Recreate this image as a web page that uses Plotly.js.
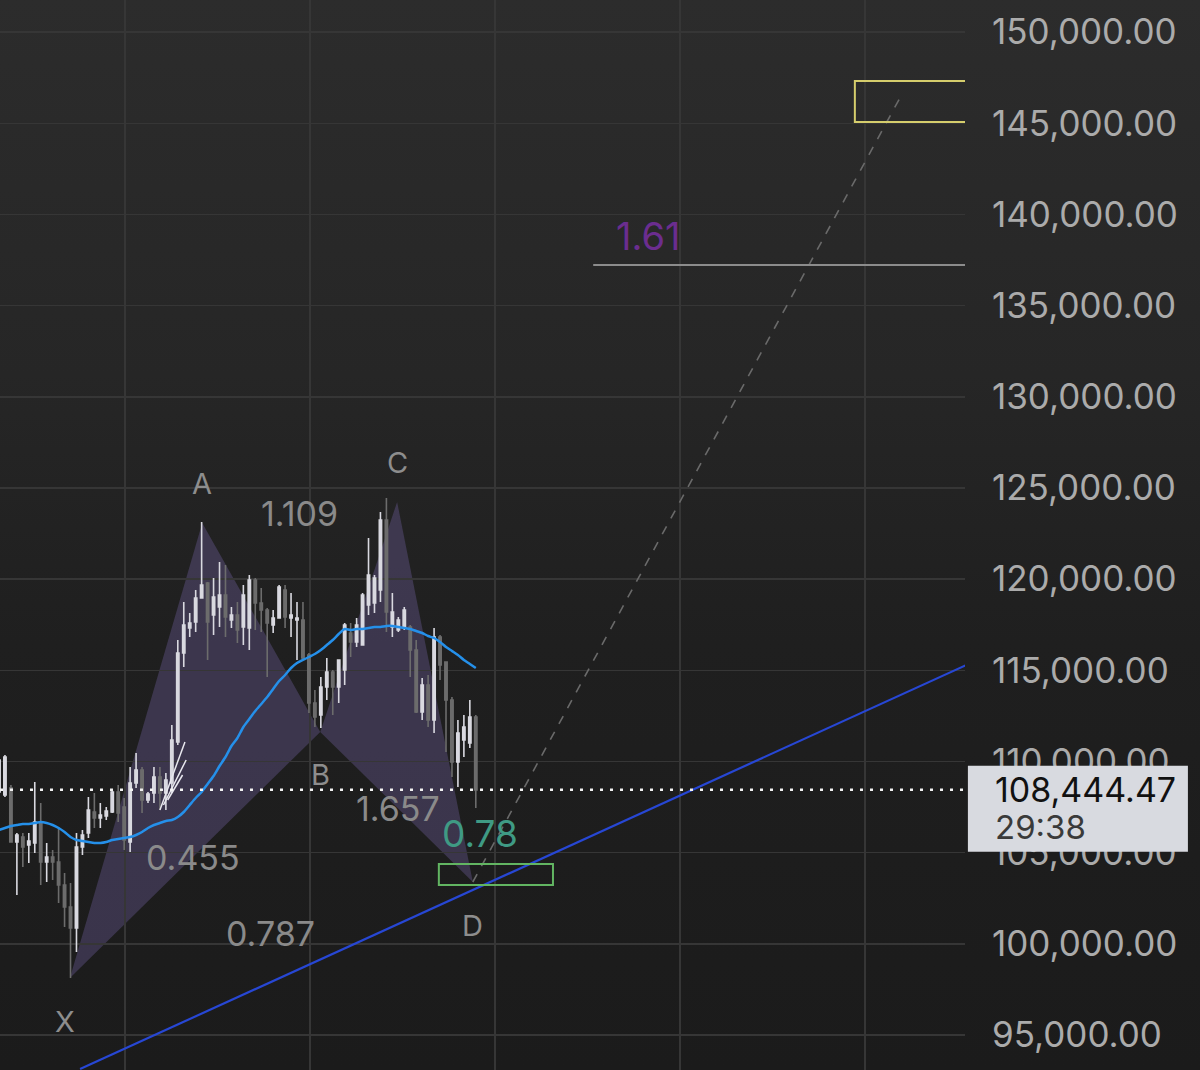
<!DOCTYPE html>
<html><head><meta charset="utf-8">
<script src="https://cdn.plot.ly/plotly-3.0.1.min.js"></script>
<style>
html,body{margin:0;padding:0;background:#1d1d1d;}
#chart{width:1200px;height:1070px;background:linear-gradient(to bottom,#2c2c2c 0%,#262626 35%,#1f1f1f 60%,#1b1b1b 100%);}
</style></head><body><div id="chart"></div>
<script>
// ---- data ----
const openP = [108326,108161,108545,105584,105858,105419,105529,106681,104487,104761,104487,103226,102019,100867,105310,106077,107229,106900,107010,107229,108326,107503,105584,108819,109532,107887,108271,109148,108271,108819,111068,115948,117319,117649,118965,119787,118032,118471,119129,117758,118032,117374,117319,119952,118690,118307,117484,117868,119403,117868,117758,117758,115839,113206,112548,114084,114907,114084,115016,117045,116552,116387,118581,118690,119403,123242,117374,117210,117319,117374,116113,112713,114194,112274,116826,115455,113371,109971,111177,111013,112439];
const highP = [110519,110355,108710,106077,106077,106077,108874,107722,105529,105145,106406,103884,103335,106077,106242,108052,108271,107722,107503,108435,108710,107997,109697,110464,109697,108326,109697,109697,109368,112000,116661,118745,118142,119403,123133,119842,120061,120939,120774,118471,118745,119678,120226,120061,119513,118416,118307,119678,119678,119239,118745,118745,115948,113919,114632,115674,115016,115565,117594,117594,117868,119239,122255,120226,123681,124449,119239,117923,118471,117484,116661,114577,114742,117319,116936,115455,113536,112274,112548,113371,112548];
const lowP = [108161,108052,105584,102677,104213,104432,104980,103226,103390,103500,102238,100922,98125,99551,104871,105803,106351,106351,106790,107174,106681,105145,105035,108545,107174,107722,107722,107339,107339,108271,110903,115181,116826,117100,118965,115565,116936,117374,116826,117319,116497,116387,116113,117210,117100,114632,117045,117868,117319,116826,115565,115565,112658,111890,111835,113371,112548,113206,114194,115729,116278,116387,118032,118142,118745,117100,116826,117100,117210,114632,112658,112274,111890,111561,114468,110519,109148,108600,110245,110739,107448];
const closeP = [110081,110245,105584,105968,105310,105639,106681,104487,104761,104487,103226,102019,100867,105310,105968,107339,106900,107064,107284,108326,107174,105693,108819,109532,107887,108216,109148,108271,108984,111177,115948,117484,117594,118965,119678,117649,119020,119129,117923,118032,117210,119129,119952,118690,118307,117594,117868,119568,117923,118032,117868,115674,113206,112439,114084,114907,114084,115565,117484,116552,117484,119129,120226,120061,123242,118197,118197,117758,118307,116113,112713,114194,112274,116826,115290,113371,109971,111561,111890,112439,108444.47];
const maP = [106242,106351,106461,106516,106571,106571,106626,106681,106626,106516,106351,106132,105858,105693,105639,105584,105529,105529,105584,105693,105748,105803,105858,105968,106132,106351,106516,106626,106735,106790,106955,107229,107613,107997,108326,108764,109203,109752,110245,110848,111287,111890,112329,112768,113152,113536,113974,114413,114742,115126,115400,115565,115729,115894,116113,116387,116661,116990,117265,117210,117265,117265,117319,117374,117374,117429,117429,117374,117319,117265,117155,117045,116881,116771,116552,116278,116058,115839,115565,115345,115126];
const candleIdx = openP.map((_, i) => i);

const yTicks = [95000,100000,105000,110000,115000,120000,125000,130000,135000,140000,145000,150000];

const patternLabels = ['X','A','B','C','D'];
const patternIdx = [11.9, 34.1, 53.9, 66.8, 79.5];
const patternPrice = [98125, 123080, 111620, 124230, 103390];

const ratioText = ['1.109','0.455','0.787','1.657'];
const ratioIdx = [50.5, 32.55, 45.47, 66.95];
const ratioPrice = [123626, 104761, 100593, 107448];

const entryLabel = '0.78';
const entryLabelIdx = 80.7, entryLabelPrice = 106077;
const entryIdx = [73.8, 92.95];
const entryPrice = [103226, 104377];

const targetIdx = [143.6, 170];
const targetPrice = [145069, 147317];

const levelLabel = '1.61';
const levelLabelIdx = 108.9, levelLabelPrice = 138817;
const levelIdx = [99.7, 170];
const levelPrice = 137226;

const projIdx = [79.5, 151.7];
const projPrice = [103390, 146714];

const trendIdx = [13.6, 162.3];
const trendPrice = [93135, 115290];

const hatchIdx = [27.0, 31.2, null, 27.6, 31.4, null, 28.3, 30.8];
const hatchPrice = [107339, 111068, null, 107613, 110081, null, 107887, 109258];

const lastPrice = 108444.47;
const lastPriceText = '108,444.47';
const countdown = '29:38';

// ---- chart ----
const Y0 = 93080, Y1 = 151759;
const X0 = 0.168, X1 = 162.08;
const FONT = 'Inter, "Noto Sans", sans-serif';
const py = p => (p - Y0) / (Y1 - Y0);

const traces = [
  {type:'candlestick', x:candleIdx, open:openP, high:highP, low:lowP, close:closeP,
   increasing:{line:{color:'#d9d9e0', width:1.6}, fillcolor:'#d9d9e0'},
   decreasing:{line:{color:'#6c6c6c', width:1.6}, fillcolor:'#6c6c6c'},
   whiskerwidth:0, hoverinfo:'skip'},
  {type:'scatter', mode:'lines', x:candleIdx, y:maP, line:{color:'#2590ea', width:2.5, shape:'spline', smoothing:0.6}, hoverinfo:'skip'},
  {type:'scatter', mode:'lines', x:hatchIdx, y:hatchPrice, line:{color:'#e8e8ee', width:1.5}, connectgaps:false, hoverinfo:'skip'},
  {type:'scatter', mode:'lines', x:projIdx, y:projPrice, line:{color:'#6a6a6a', width:1.6, dash:'9px,9px'}, hoverinfo:'skip'},
  {type:'scatter', mode:'lines', x:trendIdx, y:trendPrice, line:{color:'#2747d4', width:2.2}, hoverinfo:'skip'}
];

const tri = (a, b, c) => `M ${patternIdx[a]},${patternPrice[a]} L ${patternIdx[b]},${patternPrice[b]} L ${patternIdx[c]},${patternPrice[c]} Z`;

const shapes = [
  {type:'path', xref:'x', yref:'y', path:tri(0,1,2), fillcolor:'rgba(122,102,172,0.33)', line:{width:0}, layer:'below'},
  {type:'path', xref:'x', yref:'y', path:tri(2,3,4), fillcolor:'rgba(122,102,172,0.33)', line:{width:0}, layer:'below'},
  {type:'rect', xref:'x', yref:'y', x0:entryIdx[0], x1:entryIdx[1], y0:entryPrice[0], y1:entryPrice[1], line:{color:'#62b562', width:2}, fillcolor:'rgba(0,0,0,0)'},
  {type:'path', xref:'x', yref:'y', path:`M ${targetIdx[1]},${targetPrice[1]} L ${targetIdx[0]},${targetPrice[1]} L ${targetIdx[0]},${targetPrice[0]} L ${targetIdx[1]},${targetPrice[0]}`, line:{color:'#d5cd6c', width:2}, fillcolor:'rgba(0,0,0,0)'},
  {type:'line', xref:'x', yref:'y', x0:levelIdx[0], x1:levelIdx[1], y0:levelPrice, y1:levelPrice, line:{color:'#8c8c8c', width:2}},
  {type:'line', xref:'paper', yref:'paper', x0:0, x1:1.003, y0:py(lastPrice), y1:py(lastPrice), line:{color:'#f2f2f2', width:2.5, dash:'3px,7px'}},
  {type:'rect', xref:'paper', yref:'paper', x0:1.003, x1:1.231, y0:py(lastPrice) - 62/1070, y1:py(lastPrice) + 24/1070, fillcolor:'#d8dae0', line:{width:0}, layer:'above'}
];

const annotations = [];
patternLabels.forEach((t, i) => {
  const up = (t === 'A' || t === 'C');
  annotations.push({x:patternIdx[i], y:patternPrice[i], xref:'x', yref:'y', text:t, showarrow:false,
    xanchor:'center', yanchor:'middle', yshift: up ? 39 : -43, xshift: t === 'X' ? -5 : 0,
    font:{family:FONT, size:29, color:'#8d8d8d'}});
});
ratioText.forEach((t, i) => {
  annotations.push({x:ratioIdx[i], y:ratioPrice[i], xref:'x', yref:'y', text:t, showarrow:false,
    xanchor:'center', yanchor:'middle', font:{family:FONT, size:34, color:'#8a8a8a'}});
});
annotations.push({x:entryLabelIdx, y:entryLabelPrice, xref:'x', yref:'y', text:entryLabel, showarrow:false,
  xanchor:'center', yanchor:'middle', font:{family:FONT, size:37, color:'#3f9a84'}});
annotations.push({x:levelLabelIdx, y:levelLabelPrice, xref:'x', yref:'y', text:levelLabel, showarrow:false,
  xanchor:'center', yanchor:'middle', font:{family:FONT, size:38, color:'#6b2d8f'}});
annotations.push({x:1.029, y:py(lastPrice), xref:'paper', yref:'paper', text:lastPriceText, showarrow:false,
  xanchor:'left', yanchor:'middle', font:{family:FONT, size:34, color:'#111111'}});
annotations.push({x:1.029, y:py(lastPrice), xref:'paper', yref:'paper', yshift:-37, text:countdown, showarrow:false,
  xanchor:'left', yanchor:'middle', font:{family:FONT, size:33, color:'#3a3a3a'}});

const layout = {
  width:1200, height:1070, margin:{l:0, r:235, t:0, b:0},
  paper_bgcolor:'rgba(0,0,0,0)', plot_bgcolor:'rgba(0,0,0,0)',
  showlegend:false, boxgap:0.45, dragmode:false,
  xaxis:{range:[X0, X1], showticklabels:false, showgrid:true, gridcolor:'#363636', gridwidth:1.5,
    tick0:21.1, dtick:31.04, zeroline:false, showline:false, rangeslider:{visible:false}, fixedrange:true},
  yaxis:{range:[Y0, Y1], side:'right', tickmode:'array', tickvals:yTicks, tickformat:',.2f',
    showgrid:true, gridcolor:'#363636', gridwidth:1.5, zeroline:false, showline:false, ticks:'',
    ticklabelstandoff:26, tickfont:{family:FONT, size:35, color:'#ababab'}, fixedrange:true},
  shapes:shapes, annotations:annotations
};

Plotly.newPlot('chart', traces, layout, {staticPlot:true, displayModeBar:false});
</script></body></html>
